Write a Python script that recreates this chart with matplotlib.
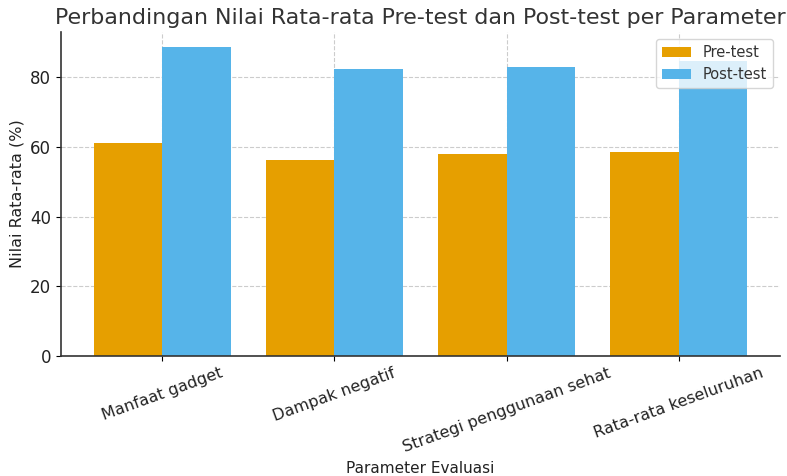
import numpy as np
import matplotlib.pyplot as plt

## Data
parameters = ['Manfaat gadget', 'Dampak negatif', 'Strategi penggunaan sehat', 'Rata-rata keseluruhan']
pre_test = [61.2, 56.4, 58.1, 58.5]
post_test = [88.6, 82.4, 82.9, 84.6]

if __name__ == "__main__":
    x = np.arange(len(parameters))
    width = 0.4

    fig = plt.figure(figsize=(7.87, 4.76), dpi=100)
    ax = fig.add_axes([61 / 787, 120 / 476, 719 / 787, 324 / 476])

    ax.bar(x - width / 2, pre_test, width, label='Pre-test', color='#E69F00')
    ax.bar(x + width / 2, post_test, width, label='Post-test', color='#56B4E9')

    ax.set_xticks(x)
    ax.set_xticklabels(parameters, rotation=20, ha='center', fontsize=11.5, color='#222222')
    ax.tick_params(axis='y', labelsize=12, labelcolor='#222222')
    ax.set_xlabel('Parameter Evaluasi', fontsize=11, color='#222222')
    ax.set_ylabel('Nilai Rata-rata (%)', fontsize=11.5, color='#222222')
    ax.set_title('Perbandingan Nilai Rata-rata Pre-test dan Post-test per Parameter',
                 fontsize=15.9, color='#333333', pad=6)

    ax.grid(True, linestyle='--', color='#cccccc', linewidth=0.8)
    ax.set_axisbelow(True)
    for side in ['top', 'right']:
        ax.spines[side].set_visible(False)
    for side in ['left', 'bottom']:
        ax.spines[side].set_color('#333333')
        ax.spines[side].set_linewidth(1.2)

    ax.legend(loc='upper right', fontsize=10.5, labelcolor='#333333')

    fig.savefig('out.png', dpi=100)
    plt.close()
